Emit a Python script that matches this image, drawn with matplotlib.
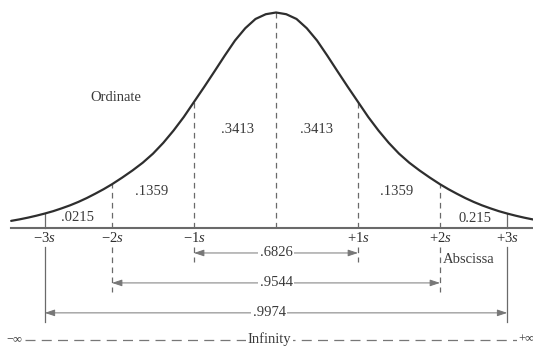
import numpy as np
import matplotlib
matplotlib.use("Agg")
import matplotlib.pyplot as plt

plt.rcParams['font.family'] = ['Liberation Serif', 'DejaVu Serif']
plt.rcParams['mathtext.fontset'] = 'custom'
plt.rcParams['mathtext.rm'] = 'Liberation Serif'
plt.rcParams['mathtext.it'] = 'Liberation Serif:italic'

# curve height (peak = 1) every eighth of a sigma, one side; the curve is symmetric
sigma_half = [0, 0.125, 0.25, 0.375, 0.5, 0.625, 0.75, 0.875, 1.0, 1.125, 1.25,
              1.375, 1.5, 1.625, 1.75, 1.875, 2.0, 2.125, 2.25, 2.375, 2.5,
              2.625, 2.75, 2.875, 3.0, 3.125, 3.25, 3.375, 3.5]
height_half = [1.0, 0.992, 0.97, 0.927, 0.87, 0.80, 0.727, 0.655, 0.585, 0.515, 0.452,
               0.395, 0.345, 0.303, 0.267, 0.234, 0.203, 0.180, 0.159, 0.139, 0.121,
               0.105, 0.091, 0.078, 0.067, 0.057, 0.048, 0.040, 0.033]

# sigma marks along the abscissa
marks = [-3, -2, -1, 0, 1, 2, 3]
mark_labels = ['\u22123$s$', '\u22122$s$', '\u22121$s$', '', '+1$s$', '+2$s$', '+3$s$']

# area between neighbouring marks, as printed
area_labels = ['.0215', '.1359', '.3413', '.3413', '.1359', '0.215']
# area inside +-1s, +-2s, +-3s
span_k = [1, 2, 3]
span_labels = ['.6826', '.9544', '.9974']

sigma = [-s for s in sigma_half[::-1]] + sigma_half[1:]
height = height_half[::-1] + height_half[1:]
height_at = dict(zip(sigma, height))


# tails beyond 2s are drawn a little compressed
def fwd(x):
    x = np.asarray(x, dtype=float)
    a = np.abs(x)
    return np.sign(x) * np.where(a <= 2, a, 2 + (a - 2) * 0.82)


def inv(u):
    u = np.asarray(u, dtype=float)
    a = np.abs(u)
    return np.sign(u) * np.where(a <= 2, a, 2 + (a - 2) / 0.82)


fig = plt.figure(figsize=(5.33, 3.48), dpi=100)
ax = fig.add_axes([0, 0, 1, 1])
ax.set_xscale('function', functions=(fwd, inv))
ax.set_xlim(-3.666, 3.383)
ax.set_ylim(-0.557, 1.058)
ax.axis('off')

ink = '#2e2e2e'
grey = '#6a6a6a'
fs = 10.5

# bell curve and abscissa
ax.plot(sigma, height, color=ink, lw=1.6, solid_capstyle='round',
        solid_joinstyle='round', zorder=3)
ax.plot([-3.5, 3.5], [0, 0], color=grey, lw=1.5, zorder=2)

# ordinates at the sigma marks
for m in marks:
    if abs(m) == 3:
        ax.plot([m, m], [0, height_at[m]], color=grey, lw=0.9)
    else:
        ax.plot([m, m], [0, height_at[m]], color=grey, lw=0.9,
                linestyle=(0, (4.5, 3.5)))

for m, lab in zip(marks, mark_labels):
    if lab:
        ax.text(m, -0.047, lab, ha='center', va='center', fontsize=fs, color=ink)

# area labels
area_pos = [(-2.52, 0.05), (-1.52, 0.167), (-0.47, 0.455),
            (0.5, 0.455), (1.47, 0.167), (2.52, 0.042)]
for (x, y), lab in zip(area_pos, area_labels):
    ax.text(x, y, lab, ha='center', va='center', fontsize=fs, color='#3a3a3a')

ax.text(-1.95, 0.607, 'Ordinate', ha='center', va='center', fontsize=fs, color='#3a3a3a')
ax.text(2.42, -0.148, 'Abscissa', ha='center', va='center', fontsize=fs, color='#3a3a3a')

# spans below the axis
row_y = [-0.116, -0.255, -0.394]
drop_end = {1: -0.158, 2: -0.297, 3: -0.436}
for k, y, lab in zip(span_k, row_y, span_labels):
    for m in (-k, k):
        ls = '-' if k == 3 else (0, (4.5, 3.5))
        ax.plot([m, m], [-0.088, drop_end[k]], color=grey, lw=0.9, linestyle=ls)
    ax.annotate('', xy=(-k, y), xytext=(k, y),
                arrowprops=dict(arrowstyle='<|-|>,head_length=0.6,head_width=0.2',
                                color='#777777', lw=0.7, shrinkA=0, shrinkB=0))
    ax.text(-0.08 if k == 3 else 0, y, lab, ha='center', va='center', fontsize=fs,
            color='#3a3a3a',
            bbox=dict(boxstyle='square,pad=0.1', facecolor='white', edgecolor='none'))

# infinity line
inf_y = -0.518
ax.plot([-3.3, 3.26], [inf_y, inf_y], color='#777777', lw=0.9,
        linestyle=(0, (8, 5)))
ax.text(-0.08, inf_y, 'Infinity', ha='center', va='center', fontsize=fs, color='#3a3a3a',
        bbox=dict(boxstyle='square,pad=0.1', facecolor='white', edgecolor='none'))
ax.text(-3.46, inf_y, '\u2212\u221e', ha='center', va='center', fontsize=9, color='#3a3a3a')
ax.text(3.28, inf_y, '+\u221e', ha='center', va='center', fontsize=9, color='#3a3a3a',
        bbox=dict(boxstyle='square,pad=0.1', facecolor='white', edgecolor='none'))

fig.savefig('out.png', dpi=100)
